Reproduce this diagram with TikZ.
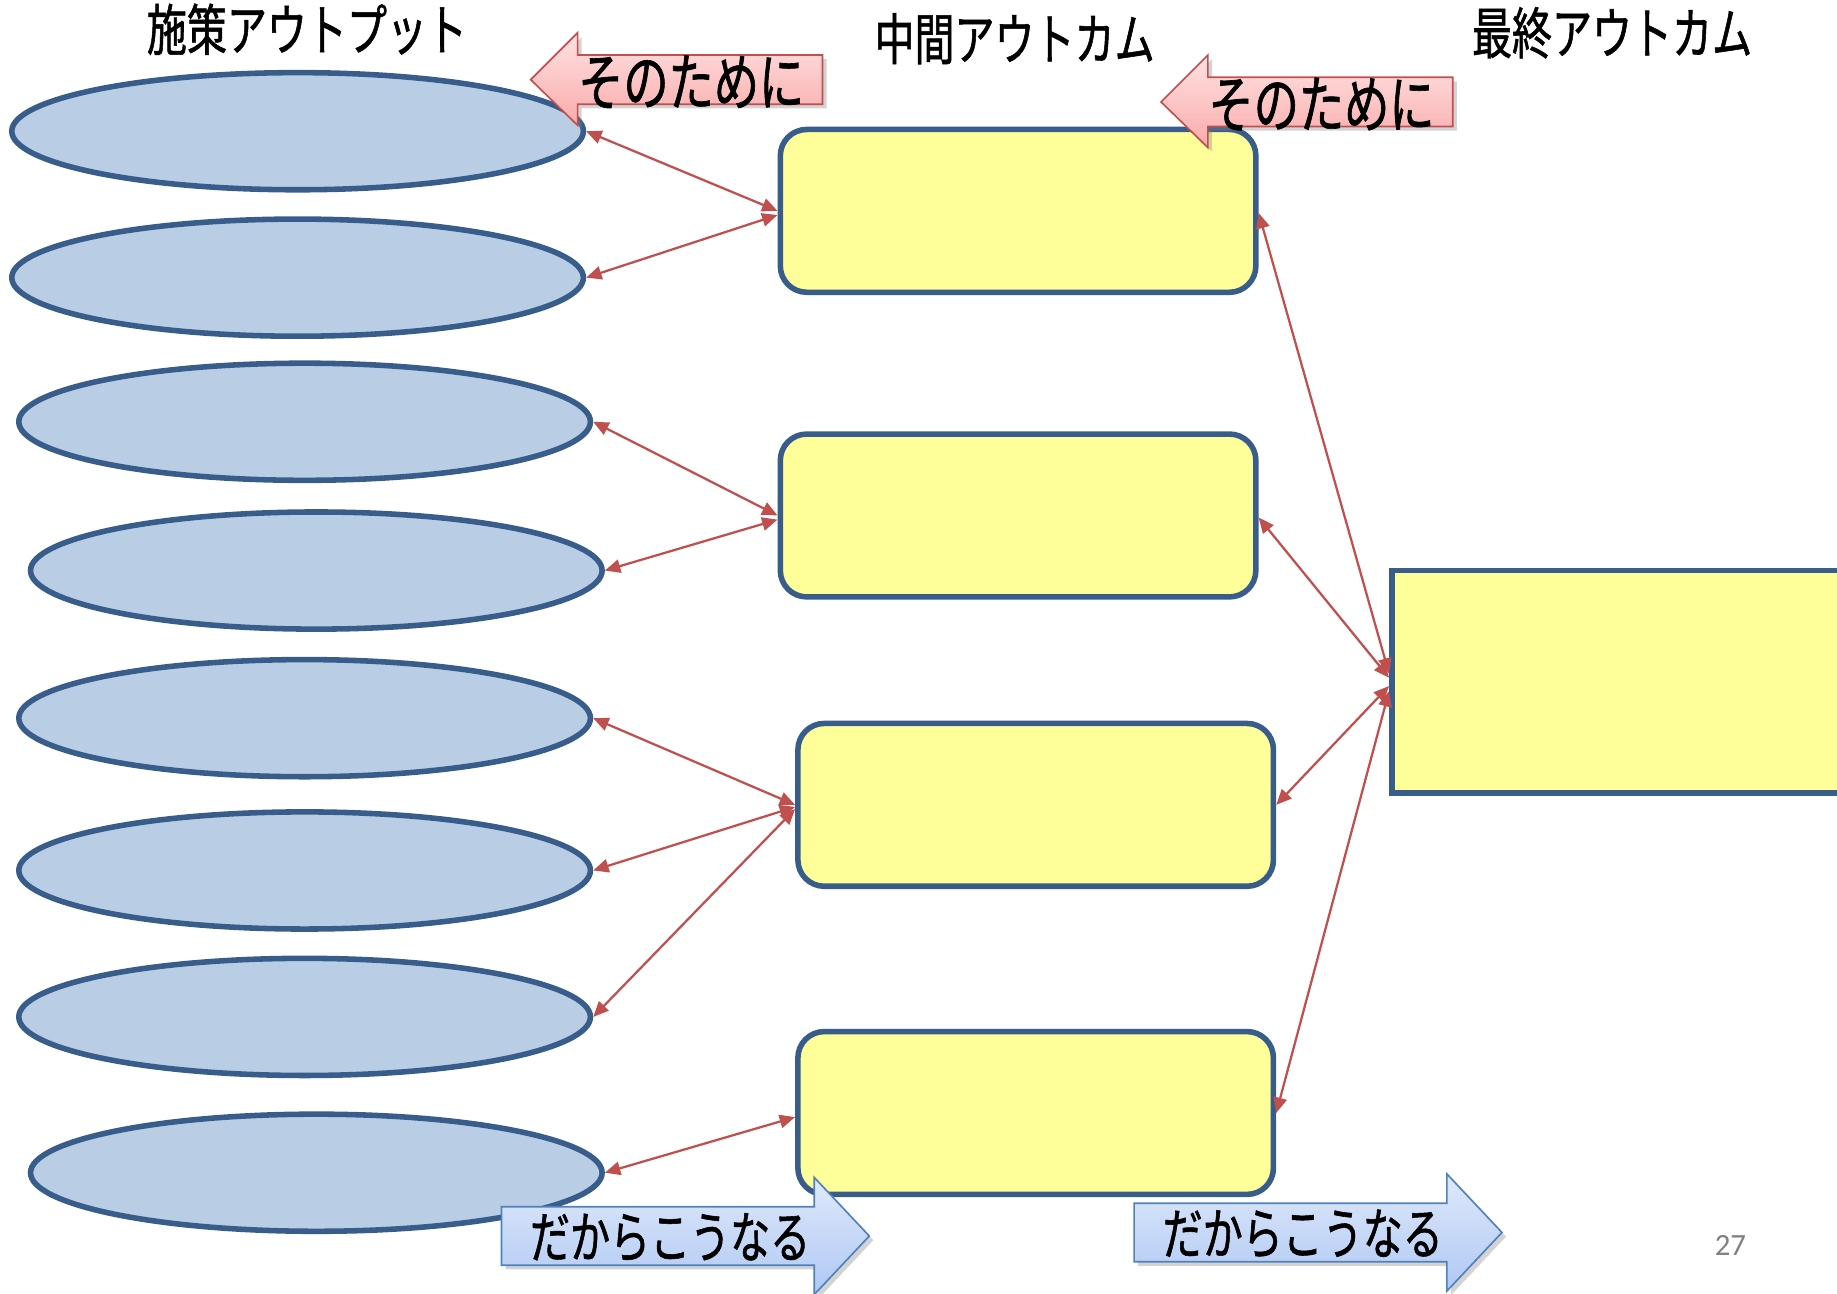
\documentclass[tikz,border=0pt]{standalone}
\usepackage{fontspec}
\setmainfont{Noto Sans CJK JP}[FakeStretch=0.72, FakeBold=1]
\newfontfamily\pagefont{Carlito}
\usetikzlibrary{shapes.geometric, arrows.meta, shadows, positioning}
\definecolor{outblue}{HTML}{B9CDE5}
\definecolor{edgeblue}{HTML}{385D8A}
\definecolor{boxyellow}{HTML}{FFFF99}
\definecolor{linkred}{HTML}{C0504D}
\definecolor{pinktop}{HTML}{FFE2E2}
\definecolor{pinkbottom}{HTML}{F9AAAA}
\definecolor{arrowblue}{HTML}{4F81BD}
\definecolor{bluetop}{HTML}{DFE9FA}
\definecolor{bluebottom}{HTML}{AFC8F4}
\tikzset{
  output/.style={ellipse, draw=edgeblue, fill=outblue, line width=2.7pt, minimum width=9.76cm, minimum height=2cm},
  midbox/.style={rectangle, rounded corners=0.45cm, draw=edgeblue, fill=boxyellow, line width=2.7pt, minimum width=8.12cm, minimum height=2.78cm},
  finalbox/.style={rectangle, draw=edgeblue, fill=boxyellow, line width=2.7pt, minimum width=8.24cm, minimum height=3.8cm},
  link/.style={{Triangle[length=7.5pt,width=6.5pt]}-{Triangle[length=7.5pt,width=6.5pt]}, draw=linkred, line width=1.1pt},
  heading/.style={font=\fontsize{27}{32}\selectfont},
  arrowtext/.style={font=\fontsize{27}{32}\selectfont, inner sep=0pt}
}

\begin{document}
\begin{tikzpicture}[
    x=0.02cm, y=-0.02cm,
    pinkarrow/.style={draw=linkred, line width=0.8pt, top color=pinktop, bottom color=pinkbottom,
      drop shadow={shadow xshift=2pt, shadow yshift=-2pt, opacity=0.35}},
    bluearrow/.style={draw=arrowblue, line width=0.8pt, top color=bluetop, bottom color=bluebottom,
      drop shadow={shadow xshift=2pt, shadow yshift=-2pt, opacity=0.35}},
]
\useasboundingbox (0,0) rectangle (1568,1104);

% headings
\node[heading] (h1) at (262,25) {施策アウトプット};
\node[heading] (h2) at (866,33) {中間アウトカム};
\node[heading] (h3) at (1376,28) {最終アウトカム};

% outputs
\foreach \n/\x/\y in {1/254/112, 2/254/237, 3/260/360, 4/270/487, 5/260/613, 6/260/743, 7/260/868, 8/270/1001}
  \node[output] (o\n) at (\x,\y) {};

% intermediate outcomes
\node[midbox] (m1) at (869,180) {};
\node[midbox] (m2) at (869,440) {};
\node[midbox] (m3) at (884,687) {};
\node[midbox] (m4) at (884,950) {};

% final outcome
\node[finalbox] (fin) at (1394,582) {};

% links outputs - intermediate
\draw[link] (o1.east) -- (m1.west);
\draw[link] (o2.east) -- ([yshift=-2pt]m1.west);
\draw[link] (o3.east) -- (m2.west);
\draw[link] (o4.east) -- ([yshift=-2pt]m2.west);
\draw[link] (o5.east) -- (m3.west);
\draw[link] (o6.east) -- ([yshift=-1pt]m3.west);
\draw[link] (o7.east) -- ([yshift=-2pt]m3.west);
\draw[link] (o8.east) -- ([yshift=-2pt]m4.west);

% links intermediate - final
\draw[link] ([yshift=-1pt]m1.east) -- ([yshift=4pt]fin.west);
\draw[link] ([yshift=-1pt]m2.east) -- ([yshift=2pt]fin.west);
\draw[link] (m3.east) -- ([yshift=-2pt]fin.west);
\draw[link] (m4.east) -- ([yshift=-4.5pt]fin.west);

% "そのために"
\foreach \n/\dx/\dy in {1/0/0, 2/538/19} {
  \draw[pinkarrow] (453+\dx,68+\dy) -- (493+\dx,28+\dy) -- (493+\dx,47+\dy) -- (702+\dx,47+\dy)
    -- (702+\dx,89+\dy) -- (493+\dx,89+\dy) -- (493+\dx,107+\dy) -- cycle;
  \node[arrowtext, font=\fontsize{30.5}{34}\selectfont] (why\n) at (590+\dx,70+\dy) {そのために};
}

% "だからこうなる"
\foreach \n/\dx/\dy in {1/0/0, 2/540/-3} {
  \draw[bluearrow] (742+\dx,1055+\dy) -- (695+\dx,1005+\dy) -- (695+\dx,1030+\dy) -- (428+\dx,1030+\dy)
    -- (428+\dx,1080+\dy) -- (695+\dx,1080+\dy) -- (695+\dx,1105+\dy) -- cycle;
  \node[arrowtext] (so\n) at (572+\dx,1056+\dy) {だからこうなる};
}

% page number
\node[font=\pagefont\fontsize{15}{18}\selectfont, text=black!50] (page) at (1477,1063) {27};

\end{tikzpicture}
\end{document}
